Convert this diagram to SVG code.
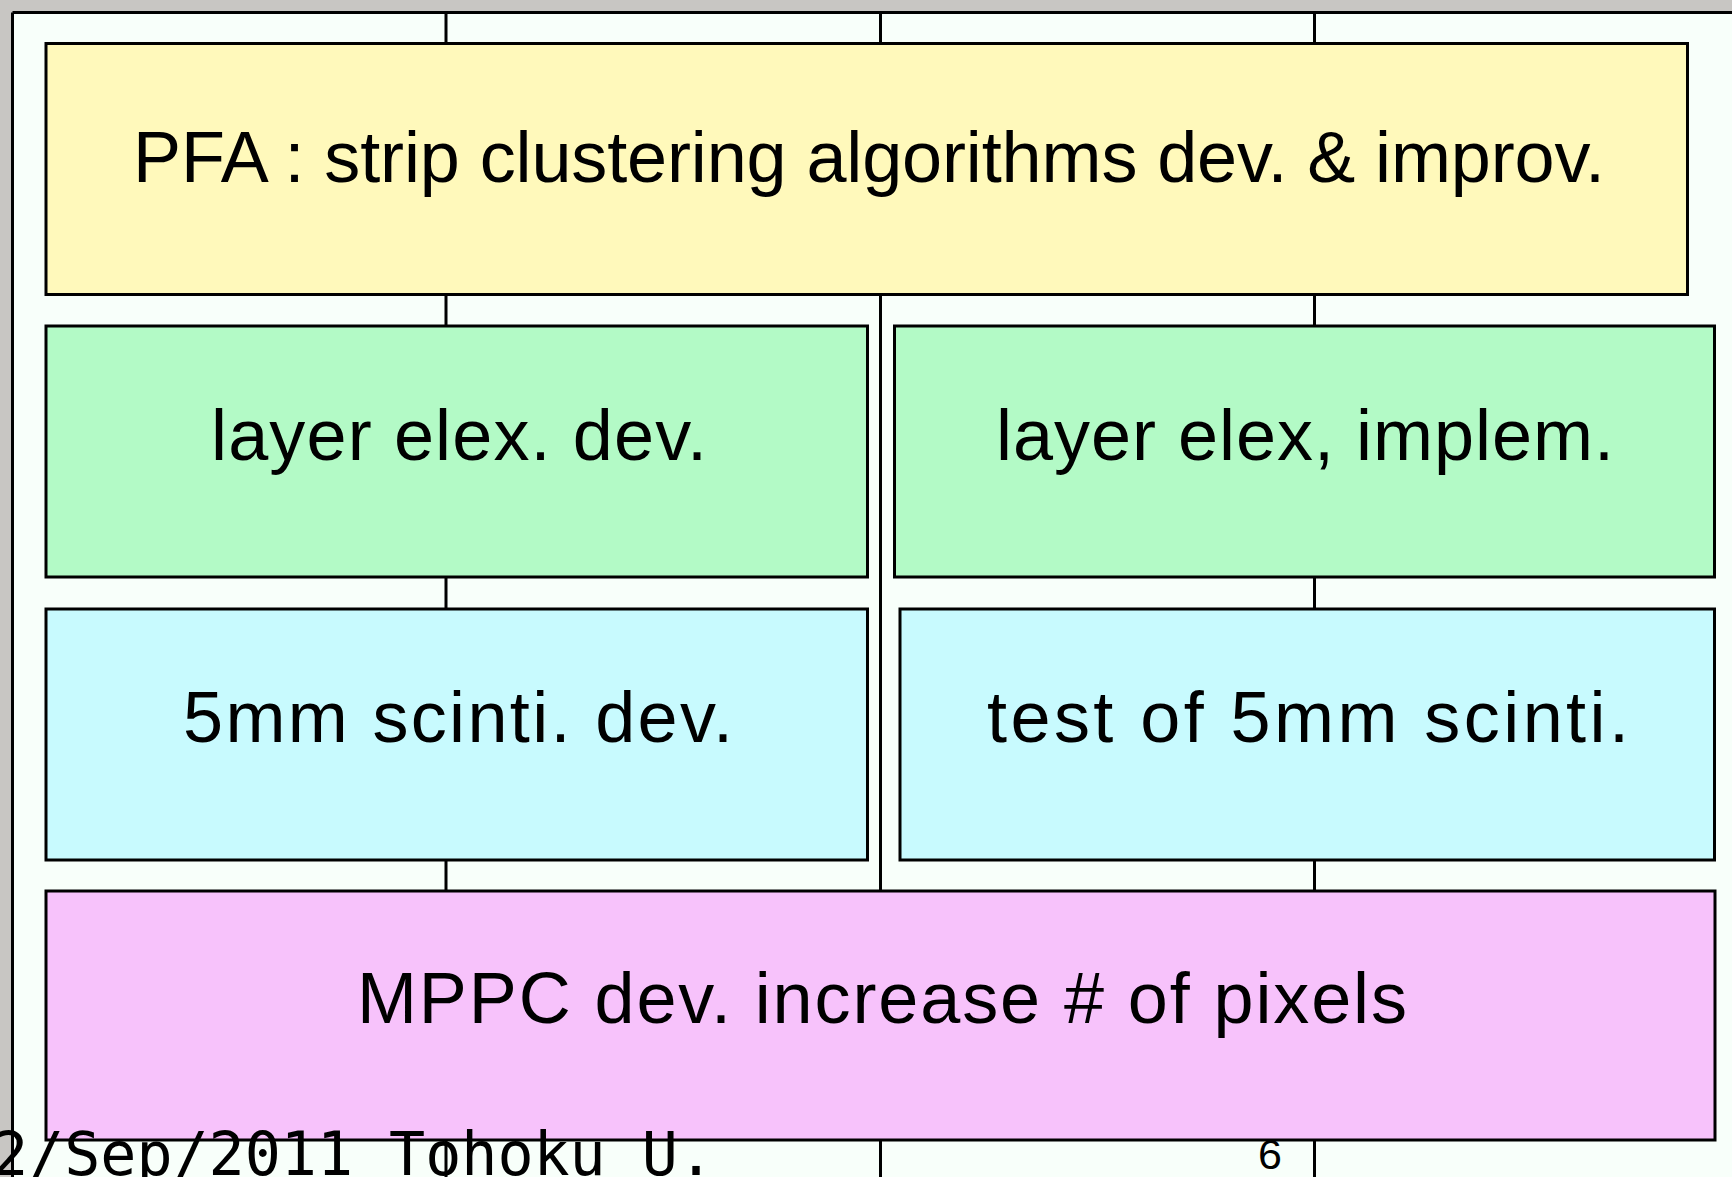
<svg xmlns="http://www.w3.org/2000/svg" width="1732" height="1177" viewBox="0 0 1732 1177">
<style>
.box{stroke:#000;stroke-width:3}
.grid{stroke:#000;stroke-width:3;fill:none}
.lbl{font-family:"Liberation Sans",Arial,sans-serif;font-size:72px;fill:#000}
.foot{font-family:"DejaVu Sans Mono","Liberation Mono",monospace;font-size:60px;fill:#000}
.num{font-family:"Liberation Sans",Arial,sans-serif;font-size:43px;fill:#000}
</style>
<rect x="0" y="0" width="1732" height="1177" fill="#c8c6c3"/>
<rect x="12.5" y="12.5" width="1730" height="1170" fill="#f8fffa"/>
<g id="connectors">
<line class="grid" x1="12.5" y1="12.5" x2="1732" y2="12.5"/>
<line class="grid" x1="12.5" y1="12.5" x2="12.5" y2="1177"/>
<line class="grid" x1="446" y1="12.5" x2="446" y2="1177"/>
<line class="grid" x1="880.5" y1="12.5" x2="880.5" y2="1177"/>
<line class="grid" x1="1314.5" y1="12.5" x2="1314.5" y2="1177"/>
</g>
<g id="pfa">
<rect class="box" x="46" y="43.5" width="1641.5" height="251" fill="#fff9bb"/>
<text class="lbl" x="133" y="182" font-size="70" textLength="1472" lengthAdjust="spacing">PFA : strip clustering algorithms dev. &amp; improv.</text>
</g>
<g id="layer-dev">
<rect class="box" x="46" y="326" width="821.5" height="251" fill="#b3fac6"/>
<text class="lbl" x="211" y="460" textLength="496" lengthAdjust="spacing">layer elex. dev.</text>
</g>
<g id="layer-implem">
<rect class="box" x="894.5" y="326" width="820" height="251" fill="#b3fac6"/>
<text class="lbl" x="996" y="460" textLength="618" lengthAdjust="spacing">layer elex, implem.</text>
</g>
<g id="scinti-dev">
<rect class="box" x="46" y="609" width="821.5" height="251" fill="#c8fafe"/>
<text class="lbl" x="183" y="742" textLength="550" lengthAdjust="spacing">5mm scinti. dev.</text>
</g>
<g id="scinti-test">
<rect class="box" x="900" y="609" width="814.5" height="251" fill="#c8fafe"/>
<text class="lbl" x="987" y="742" textLength="642" lengthAdjust="spacing">test of 5mm scinti.</text>
</g>
<g id="mppc">
<rect class="box" x="46" y="891" width="1669" height="249" fill="#f7c2fb"/>
<text class="lbl" x="357" y="1023" font-size="70" textLength="1050" lengthAdjust="spacing">MPPC dev. increase # of pixels</text>
</g>
<text class="foot" x="-8" y="1175" textLength="722" lengthAdjust="spacing">2/Sep/2011 Tohoku U.</text>
<text class="num" x="1270" y="1169" text-anchor="middle">6</text>
</svg>
